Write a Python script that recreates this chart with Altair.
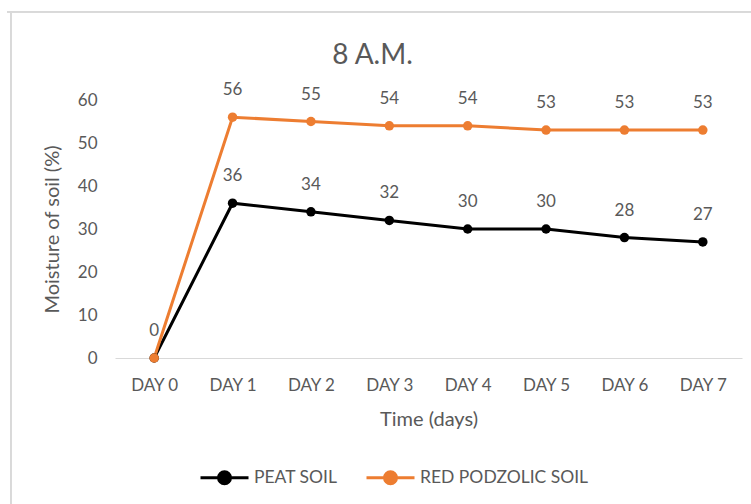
import altair as alt
import pandas as pd

days = ["DAY 0", "DAY 1", "DAY 2", "DAY 3", "DAY 4", "DAY 5", "DAY 6", "DAY 7"]
peat = [0, 36, 34, 32, 30, 30, 28, 27]
red = [0, 56, 55, 54, 54, 53, 53, 53]
series = ["PEAT SOIL", "RED PODZOLIC SOIL"]
colors = ["#000000", "#ED7D31"]
y_ticks = [0, 10, 20, 30, 40, 50, 60]

df = pd.DataFrame({
    "day": days * 2,
    "value": peat + red,
    "series": [series[0]] * len(days) + [series[1]] * len(days),
})
labels = df.drop_duplicates(subset=["day", "value"])

FONT = "Lato"
GRAY = "#595959"

x = alt.X("day:N", sort=days, scale=alt.Scale(type="point", padding=0.5),
          axis=alt.Axis(title="Time (days)", labelAngle=0, ticks=False,
                        domainColor="#D9D9D9", domainWidth=1.2,
                        labelPadding=19, titlePadding=16))
y = alt.Y("value:Q", scale=alt.Scale(domain=[0, 60]),
          axis=alt.Axis(title="Moisture of soil (%)", values=y_ticks, grid=False,
                        domain=False, ticks=False, labelPadding=18, titlePadding=15))
color = alt.Color("series:N", scale=alt.Scale(domain=series, range=colors),
                  legend=alt.Legend(title=None, orient="none", direction="horizontal",
                                    legendX=84, legendY=352, labelLimit=400,
                                    symbolType="M-1,0H1M-0.25,0A0.25,0.25,0,1,1,0.25,0A0.25,0.25,0,1,1,-0.25,0Z",
                                    symbolSize=2304, symbolStrokeWidth=3,
                                    labelOffset=4, columnPadding=22))

base = alt.Chart(df)
lines = base.mark_line(strokeWidth=3).encode(x=x, y=y, color=color)
points = base.mark_point(filled=True, size=90, opacity=1).encode(x=x, y=y, color=color)
text = alt.Chart(labels).mark_text(dy=-27, fontSize=17, color=GRAY, font=FONT).encode(
    x=alt.X("day:N", sort=days), y="value:Q", text="value:Q")

frame_top = alt.Chart(df).mark_rule(color="#D9D9D9", strokeWidth=1).encode(
    x=alt.value(-108), x2=alt.value(700), y=alt.value(-88))
frame_left = alt.Chart(df).mark_rule(color="#D9D9D9", strokeWidth=1).encode(
    x=alt.value(-104), y=alt.value(-88), y2=alt.value(420))

chart = alt.layer(frame_top, frame_left, lines, points, text).properties(
    width=627, height=258,
    title=alt.TitleParams("8 A.M.", fontSize=28, font=FONT, color=GRAY,
                          fontWeight="normal", anchor="middle", frame="group",
                          dx=-56, offset=-58),
    autosize=alt.AutoSizeParams(type="none"),
    padding={"left": 115, "top": 100, "right": 9, "bottom": 146},
).configure_view(stroke=None).configure_axis(
    labelFont=FONT, titleFont=FONT, labelFontSize=17, titleFontSize=20,
    labelColor=GRAY, titleColor=GRAY, titleFontWeight="normal",
).configure_legend(labelFont=FONT, labelFontSize=17.5, labelColor=GRAY)

chart.save("out.html", embed_options={"renderer": "svg", "actions": False})
